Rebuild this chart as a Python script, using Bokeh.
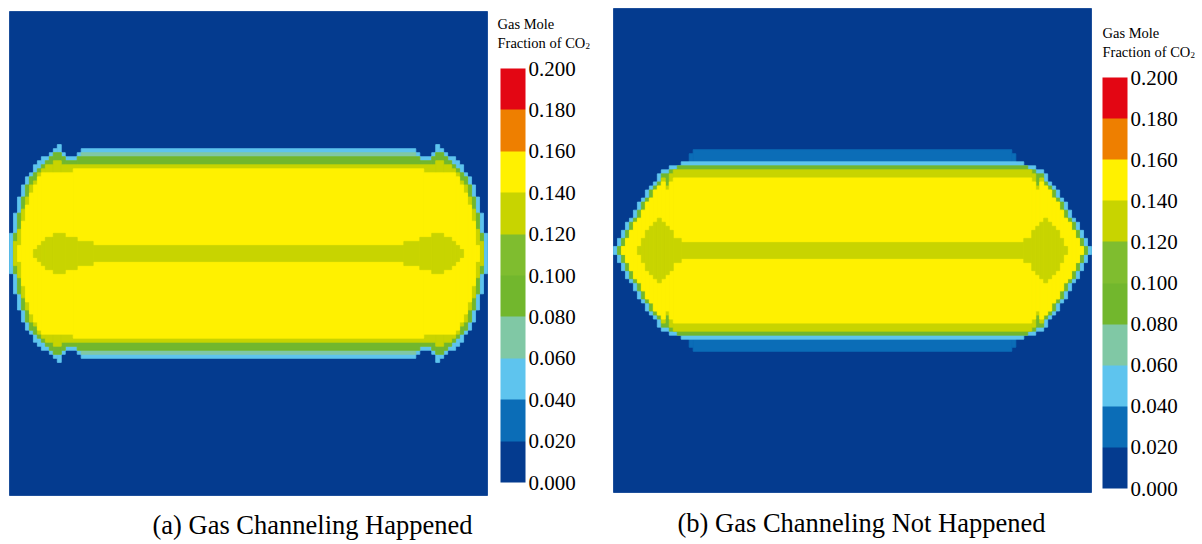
from bokeh.plotting import figure
from bokeh.layouts import row
from bokeh.models import (Range1d, Label, ColorBar, LinearColorMapper, FixedTicker,
                          NumeralTickFormatter)
from bokeh.embed import file_html
from bokeh.resources import INLINE

# ---------------- data ----------------
TICKS = [0.000, 0.020, 0.040, 0.060, 0.080, 0.100, 0.120, 0.140, 0.160, 0.180, 0.200]
BAND_COLORS = ["#043b8f", "#0b6db7", "#5ec4ee", "#80c8a5", "#72b72d",
               "#7fbd2f", "#c8d400", "#fff100", "#ee7f00", "#e30613"]
CB_TITLE = ["Gas Mole", "Fraction of CO", "2"]
CAPTIONS = ["(a) Gas Channeling Happened", "(b) Gas Channeling Not Happened"]

NX, NY = 120, 120   # grid cells of each simulation panel

# Half-heights (grid rows from the centre line) of each concentration band,
# read column by column on the left half of each panel (mirrored to the right half).
# Panel (a): gas channeling happened
A_MB   = [0] * 60
A_LB   = [5, 10, 14, 17, 19, 20, 22, 23, 24, 24, 25, 26, 27, 25, 24, 24, 24, 25, 26, 26] + [26] * 40
A_TEAL = [0, 5, 10, 14, 17, 19, 20, 21, 22, 23, 24, 25, 25, 24, 23, 23, 23, 24, 25, 25] + [25] * 40
A_GR   = [0, 5, 10, 14, 17, 19, 20, 21, 22, 23, 24, 25, 25, 24, 23, 23, 23, 24, 24, 24] + [24] * 40
A_YG   = [0, 3, 6, 11, 14, 17, 18, 20, 21, 22, 22, 23, 23, 22, 22, 22, 22, 22, 22, 22] + [22] * 40
A_YE   = [0, 0, 2, 8, 12, 15, 17, 19, 20, 20, 20, 20, 20, 20, 20, 20, 21, 21, 21, 21] + [21] * 40
A_CL   = [0, 0, 0, 0, 0, 0, 1, 2, 3, 4, 4, 5, 5, 5, 4, 4, 4, 3, 3, 3, 3] + [2] * 39

# Panel (b): gas channeling not happened
B_MB   = [0] * 19 + [24] + [25] * 40
B_LB   = [1, 3, 5, 7, 8, 10, 12, 13, 15, 16, 17, 19, 20, 20, 21, 21, 21, 22, 22, 22] + [22] * 40
B_TEAL = [0] * 60
B_GR   = [0, 1, 3, 5, 7, 8, 10, 12, 13, 15, 16, 17, 19, 19, 20, 20, 21, 21, 21, 21] + [21] * 40
B_YG   = [0, 0, 1, 3, 5, 7, 8, 10, 12, 13, 15, 16, 18, 16, 19, 20, 20, 20, 20, 20] + [20] * 40
B_YE   = [0, 0, 1, 3, 5, 7, 8, 10, 12, 13, 15, 16, 17, 15, 17, 18, 18, 18, 18, 18] + [18] * 40
B_CL   = [0, 0, 0, 0, 0, 0, 1, 3, 5, 6, 7, 8, 7, 6, 5, 3, 3, 2, 2, 2] + [2] * 40

FONT = "Liberation Serif"
WIN_H = 544


def level_quads(levels):
    """levels: list of (half_heights, band_index) painted in order."""
    L, R, B, T, C = [0], [NX], [0], [NY], [BAND_COLORS[0]]
    mid = NY // 2
    for heights, band in levels:
        full = [heights[i] if i < NX // 2 else heights[NX - 1 - i] for i in range(NX)]
        i = 0
        while i < NX:
            h = full[i]
            s = i
            while i < NX and full[i] == h:
                i += 1
            if h > 0:
                L.append(s); R.append(i); B.append(mid - h); T.append(mid + h)
                C.append(BAND_COLORS[band])
    return dict(left=L, right=R, bottom=B, top=T, color=C)


def panel(levels, fig_w, heat_left, heat_top, heat_w, heat_h, cb_left, cb_top, cb_h,
          title_dx, caption, cap_cx, cap_base):
    cw = heat_w / NX
    ch = heat_h / NY
    heat_bottom = heat_top + heat_h
    x0 = -heat_left / cw
    x1 = (fig_w - heat_left) / cw
    y0 = -(WIN_H - heat_bottom) / ch
    y1 = NY + heat_top / ch
    p = figure(width=fig_w, height=WIN_H, x_range=Range1d(x0, x1), y_range=Range1d(y0, y1),
               x_axis_location=None, y_axis_location=None, toolbar_location=None,
               output_backend="svg", min_border=0)
    p.grid.visible = False
    p.outline_line_color = None
    p.background_fill_color = "white"
    p.border_fill_color = "white"
    d = level_quads(levels)
    p.quad(left=d["left"], right=d["right"], bottom=d["bottom"], top=d["top"],
           fill_color=d["color"], line_color=d["color"], line_width=0.8)

    def dx(px):
        return (px - heat_left) / cw

    def dy(py):
        return (heat_bottom - py) / ch

    mapper = LinearColorMapper(palette=BAND_COLORS, low=TICKS[0], high=TICKS[-1])
    cb = ColorBar(color_mapper=mapper, ticker=FixedTicker(ticks=TICKS),
                  formatter=NumeralTickFormatter(format="0.000"),
                  width=25, height=cb_h, location=(cb_left, WIN_H - cb_top - cb_h),
                  padding=0, margin=0, label_standoff=3,
                  major_label_text_font=FONT, major_label_text_font_size="21px",
                  major_label_text_color="black",
                  major_tick_line_color=None, minor_tick_line_color=None,
                  bar_line_color=None, border_line_color=None,
                  background_fill_alpha=0)
    p.add_layout(cb, "center")

    tx = cb_left + title_dx
    p.add_layout(Label(x=dx(tx), y=dy(cb_top - 45), text=CB_TITLE[0], text_font=FONT,
                       text_font_size="14.5px", text_color="black", text_baseline="alphabetic"))
    p.add_layout(Label(x=dx(tx), y=dy(cb_top - 26), text=CB_TITLE[1], text_font=FONT,
                       text_font_size="14.5px", text_color="black", text_baseline="alphabetic"))
    p.add_layout(Label(x=dx(tx + 88), y=dy(cb_top - 23), text=CB_TITLE[2], text_font=FONT,
                       text_font_size="9px", text_color="black", text_baseline="alphabetic"))
    p.add_layout(Label(x=dx(cap_cx), y=dy(cap_base), text=caption, text_font=FONT,
                       text_font_size="26.5px", text_color="black",
                       text_align="center", text_baseline="alphabetic"))
    return p


levels_a = [(A_MB, 1), (A_LB, 2), (A_TEAL, 3), (A_GR, 4), (A_YG, 6), (A_YE, 7),
            ([min(c, y) for c, y in zip(A_CL, A_YE)], 6)]
levels_b = [(B_MB, 1), (B_LB, 2), (B_TEAL, 3), (B_GR, 4), (B_YG, 6), (B_YE, 7),
            ([min(c, y) for c, y in zip(B_CL, B_YE)], 6)]

pa = panel(levels_a, 612, 9, 11, 478, 484, 500, 68, 414, -3, CAPTIONS[0], 312, 524)
pb = panel(levels_b, 590, 1, 8, 478, 484, 490, 77, 411, 0, CAPTIONS[1], 249, 522)

layout = row(pa, pb)
open("out.html", "w").write(file_html(layout, INLINE))
